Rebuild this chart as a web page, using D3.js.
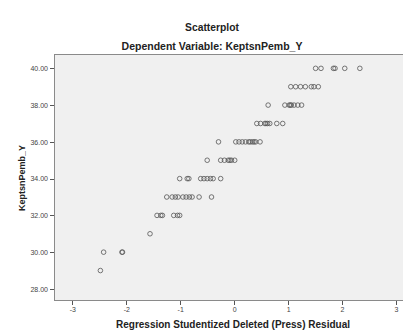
<!DOCTYPE html>
<html>
<head>
<meta charset="utf-8">
<script src="https://cdn.jsdelivr.net/npm/d3@7"></script>
<style>
  html, body { margin: 0; padding: 0; background: #ffffff; }
  svg { display: block; font-family: "Liberation Sans", Arial, sans-serif; }
</style>
</head>
<body>
<svg id="chart" width="403" height="333"></svg>
<script>
// ---- Data ----
const chartTitle = "Scatterplot";
const chartSubtitle = "Dependent Variable: KeptsnPemb_Y";
const xTitle = "Regression Studentized Deleted (Press) Residual";
const yTitle = "KeptsnPemb_Y";
const xTicks = [-3, -2, -1, 0, 1, 2, 3];
const yTicks = [28, 30, 32, 34, 36, 38, 40];

// residual (x) for each point, grouped by observed Y value
const yLevels = [40, 39, 38, 37, 36, 35, 34, 33, 32, 31, 30, 29];
const residualsByLevel = [
  [1.51, 1.61, 1.84, 1.87, 2.05, 2.33],
  [1.05, 1.14, 1.23, 1.32, 1.43, 1.48, 1.56],
  [0.63, 0.94, 1.02, 1.04, 1.06, 1.11, 1.18, 1.25],
  [0.42, 0.49, 0.57, 0.59, 0.62, 0.66, 0.79, 0.90],
  [-0.29, 0.03, 0.09, 0.15, 0.21, 0.27, 0.30, 0.34, 0.37, 0.40, 0.48],
  [-0.50, -0.25, -0.18, -0.11, -0.08, -0.05, 0.01],
  [-1.01, -0.87, -0.84, -0.62, -0.56, -0.50, -0.44, -0.39, -0.25],
  [-1.25, -1.15, -1.09, -1.04, -0.95, -0.89, -0.83, -0.78, -0.65, -0.42],
  [-1.43, -1.36, -1.33, -1.12, -1.05, -1.01],
  [-1.56],
  [-2.42, -2.08, -2.07],
  [-2.48]
];

const points = [];
yLevels.forEach((yv, i) => residualsByLevel[i].forEach(xv => points.push({x: xv, y: yv})));

// ---- Layout ----
const plot = {left: 54, right: 403, top: 54, bottom: 300.5};

const x = d3.scaleLinear().domain([-3.34, 3.13]).range([plot.left, plot.right]);
const y = d3.scaleLinear().domain([27.37, 40.78]).range([plot.bottom, plot.top]);

const svg = d3.select("#chart");

// plot background
svg.append("rect")
  .attr("x", plot.left).attr("y", plot.top)
  .attr("width", plot.right - plot.left).attr("height", plot.bottom - plot.top)
  .attr("fill", "#f0f0f0");

// frame lines (top, left, bottom)
svg.append("path")
  .attr("d", `M${plot.right},${plot.top}H${plot.left}V${plot.bottom}H${plot.right}`)
  .attr("fill", "none").attr("stroke", "#8a8a8a").attr("stroke-width", 1)
  .attr("shape-rendering", "crispEdges");

// axes
const yAxis = d3.axisLeft(y).tickValues(yTicks).tickSize(4).tickPadding(2)
  .tickFormat(d3.format(".2f"));
const xAxis = d3.axisBottom(x).tickValues(xTicks).tickSize(4).tickPadding(3)
  .tickFormat(d => d < 0 ? "-" + Math.abs(d) : String(d));

const gy = svg.append("g").attr("transform", `translate(${plot.left},0)`).call(yAxis);
const gx = svg.append("g").attr("transform", `translate(0,${plot.bottom})`).call(xAxis);
[gx, gy].forEach(g => {
  g.select(".domain").remove();
  g.selectAll(".tick line").attr("stroke", "#555").attr("shape-rendering", "crispEdges");
  g.selectAll(".tick text").attr("fill", "#444").attr("font-size", 7)
    .attr("font-family", "'Liberation Sans', Arial, sans-serif");
});

// points
svg.append("g").selectAll("circle").data(points).join("circle")
  .attr("cx", d => x(d.x)).attr("cy", d => y(d.y)).attr("r", 2.3)
  .attr("fill", "none").attr("stroke", "#555").attr("stroke-width", 0.8);

// titles
svg.append("text").attr("x", 212).attr("y", 30.5).attr("text-anchor", "middle")
  .attr("font-size", 10.3).attr("font-weight", "bold").attr("fill", "#222").text(chartTitle);
svg.append("text").attr("x", 212).attr("y", 49.5).attr("text-anchor", "middle")
  .attr("font-size", 10.5).attr("font-weight", "bold").attr("fill", "#222").text(chartSubtitle);
svg.append("text").attr("x", 233).attr("y", 328).attr("text-anchor", "middle")
  .attr("font-size", 10).attr("font-weight", "bold").attr("fill", "#222").text(xTitle);
svg.append("text").attr("transform", "translate(24.5,178) rotate(-90)").attr("text-anchor", "middle")
  .attr("font-size", 9).attr("font-weight", "bold").attr("fill", "#222").text(yTitle);
</script>
</body>
</html>
